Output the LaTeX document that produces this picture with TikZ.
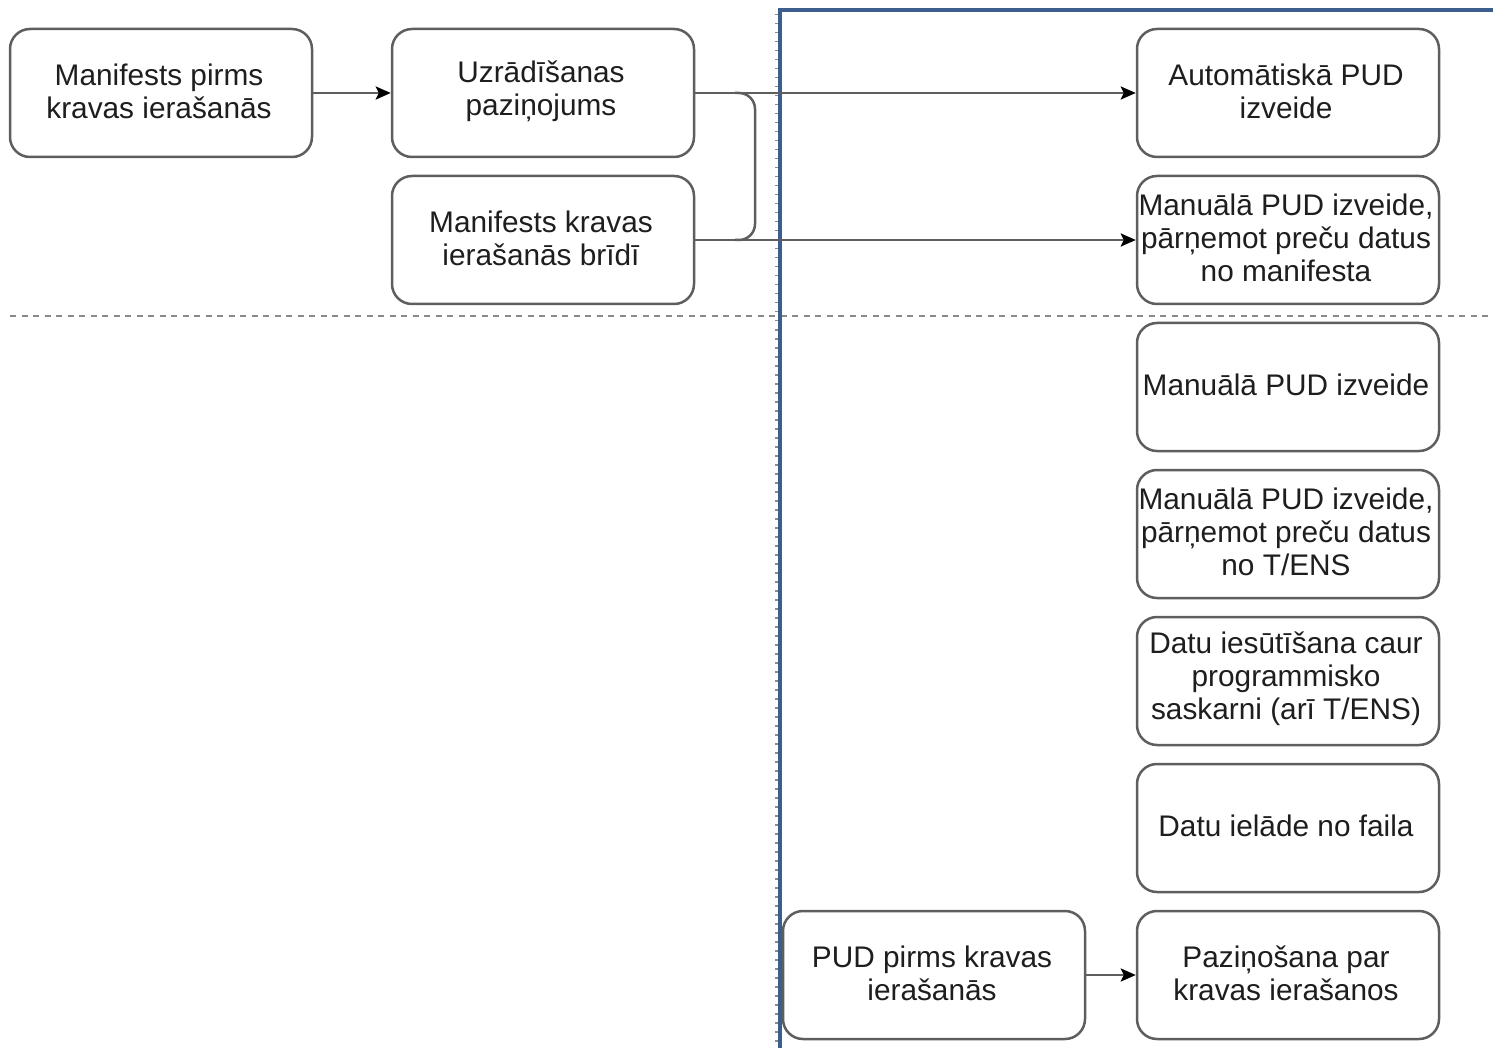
\documentclass[tikz,border=0pt]{standalone}
\usepackage{fontspec}
\setmainfont{Liberation Sans}
\usetikzlibrary{arrows.meta}
\definecolor{boxline}{HTML}{5E5E5E}
\definecolor{txt}{HTML}{1E1E1E}
\definecolor{bluel}{HTML}{3B5E8C}
\definecolor{dotg}{HTML}{8A8A8A}
\begin{document}
\begin{tikzpicture}[x=1pt,y=-1pt,
  box/.style={draw=boxline,line width=2.5pt,rounded corners=20pt,fill=white,
    minimum width=302pt,minimum height=128pt,inner sep=0pt},
  boxtext/.style={inner sep=0pt,align=center,text=txt,
    font=\fontsize{29.8}{33}\selectfont,xshift=-2pt,yshift=2pt},
  conn/.style={draw=boxline,line width=2.5pt,-{Stealth[length=15pt,width=13pt,inset=3pt,color=black]}},
  conn0/.style={draw=boxline,line width=2.5pt}]
\useasboundingbox (0,0) rectangle (1493,1048);
% separators
\draw[dotg,line width=2.5pt,dash pattern=on 6pt off 5.5pt] (10,316) -- (1493,316);
\draw[dotg,line width=3pt,dash pattern=on 1.5pt off 7.5pt] (776,14) -- (776,1048);
\draw[bluel,line width=4pt] (780,1048) -- (780,10) -- (1493,10);
% boxes
\node[box] (m1) at (161,93) {};
\node[box] (uz) at (543,93) {};
\node[box] (m2) at (543,240) {};
\node[box] (a1) at (1288,93) {};
\node[box] (a2) at (1288,240) {};
\node[box] (a3) at (1288,387) {};
\node[box] (a4) at (1288,534) {};
\node[box] (a5) at (1288,681) {};
\node[box] (a6) at (1288,828) {};
\node[box] (p1) at (934,975) {};
\node[box] (p2) at (1288,975) {};
% texts
\node[boxtext] (m1t) at (m1.center) {Manifests pirms\\kravas ierašanās};
\node[boxtext] (uzt) at (uz.center) {Uzrādīšanas\\paziņojums};
\node[boxtext] (m2t) at (m2.center) {Manifests kravas\\ierašanās brīdī};
\node[boxtext] (a1t) at (a1.center) {Automātiskā PUD\\izveide};
\node[boxtext] (a2t) at (a2.center) {Manuālā PUD izveide,\\pārņemot preču datus\\no manifesta};
\node[boxtext] (a3t) at (a3.center) {Manuālā PUD izveide};
\node[boxtext] (a4t) at (a4.center) {Manuālā PUD izveide,\\pārņemot preču datus\\no T/ENS};
\node[boxtext] (a5t) at (a5.center) {Datu iesūtīšana caur\\programmisko\\saskarni (arī T/ENS)};
\node[boxtext] (a6t) at (a6.center) {Datu ielāde no faila};
\node[boxtext] (p1t) at (p1.center) {PUD pirms kravas\\ierašanās};
\node[boxtext] (p2t) at (p2.center) {Paziņošana par\\kravas ierašanos};
% connectors
\draw[conn] (m1.east) -- (uz.west);
\draw[conn] (uz.east) -- (a1.west);
\draw[conn] (m2.east) -- (a2.west);
\draw[conn] (p1.east) -- (p2.west);
\coordinate (b1) at (735,93);
\coordinate (b2) at (735,240);
\draw[conn0,rounded corners=16pt] (b1) -- (755,93) -- (755,240) -- (b2);
\end{tikzpicture}
\end{document}
